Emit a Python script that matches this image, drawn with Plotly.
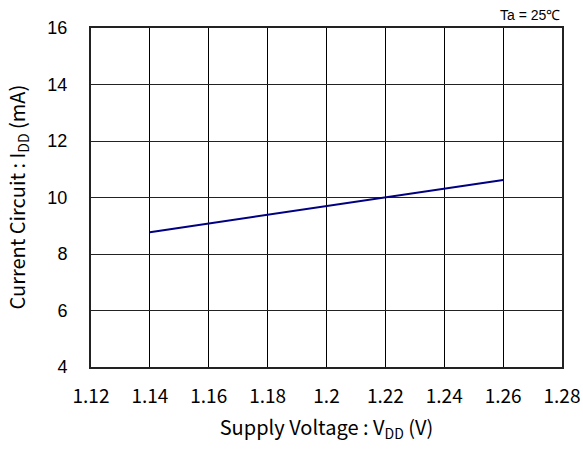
import plotly.graph_objects as go

voltage = [1.14, 1.16, 1.18, 1.20, 1.22, 1.24, 1.26]
current = [8.77, 9.08, 9.39, 9.70, 10.0, 10.31, 10.62]
x_ticks = [1.12, 1.14, 1.16, 1.18, 1.20, 1.22, 1.24, 1.26, 1.28]
x_tick_labels = ["1.12", "1.14", "1.16", "1.18", "1.2", "1.22", "1.24", "1.26", "1.28"]
y_ticks = [4, 6, 8, 10, 12, 14, 16]

fig = go.Figure()
fig.add_trace(go.Scatter(x=voltage, y=current, mode="lines",
                         line=dict(color="#000080", width=2), showlegend=False))

fig.update_layout(
    width=583, height=452,
    margin=dict(l=91, r=21, t=28, b=85),
    paper_bgcolor="white", plot_bgcolor="white",
    font=dict(family="Noto Sans CJK JP", color="black"),
    xaxis=dict(range=[1.12, 1.28], tickvals=x_ticks, ticktext=x_tick_labels,
               showgrid=True, gridcolor="black", gridwidth=1,
               showline=True, linecolor="#222", linewidth=2, mirror=True,
               ticks="", ticklabelstandoff=11, zeroline=False, automargin=False,
               tickfont=dict(family="Noto Sans CJK JP", size=19),
               title=dict(text="Supply Voltage : V<sub>DD</sub> (V)",
                          font=dict(family="Noto Sans CJK JP", size=20), standoff=14)),
    yaxis=dict(range=[4, 16], tickvals=y_ticks,
               showgrid=True, gridcolor="#222", gridwidth=1,
               showline=True, linecolor="#222", linewidth=2, mirror=True,
               ticks="", ticklabelstandoff=18, zeroline=False, automargin=False,
               tickfont=dict(family="Liberation Sans", size=18)),
    annotations=[
        dict(text="Ta = 25\u2103", xref="paper", yref="paper", x=1, y=1,
             xanchor="right", yanchor="middle", yshift=13, showarrow=False,
             font=dict(family="Liberation Sans", size=14)),
        dict(text="Current Circuit : I<sub>DD</sub> (mA)", xref="paper", yref="paper",
             x=0, y=0.5, xanchor="center", yanchor="middle", xshift=-74, textangle=-90,
             showarrow=False, font=dict(family="Noto Sans CJK JP", size=20)),
    ],
)

fig.write_html("out.html",
               config={"displayModeBar": False},
               post_script="document.body.style.margin='0';"
                           "document.documentElement.style.overflow='hidden';")
